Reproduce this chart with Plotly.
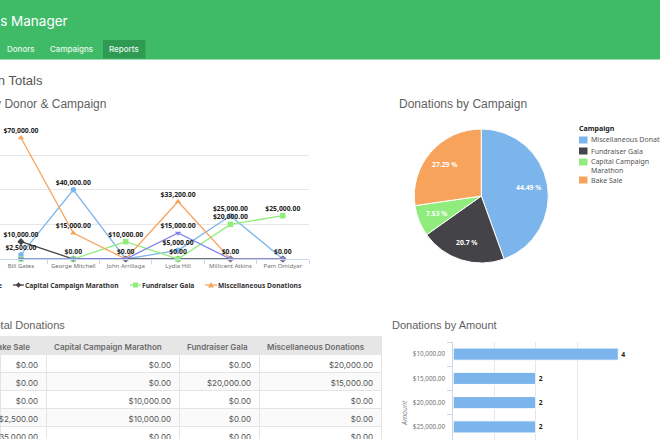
import math
import plotly.graph_objects as go

W, H = 660, 440

donors = ["Bill Gates", "George Mitchell", "John Arrillaga", "Lydia Hill", "Millicent Atkins", "Pam Omidyar"]
bake_sale = [2500, 40000, 0, 5000, 25000, 0]
capital_marathon = [10000, 0, 0, 0, 0, 0]
fundraiser_gala = [0, 0, 10000, 0, 20000, 25000]
misc_donations = [70000, 15000, 0, 33200, 0, 0]
other_campaign = [0, 0, 0, 15000, 0, 0]

bake_labelled = [True, True, False, True, True, True]
capital_labelled = [True, True, False, False, False, False]
gala_labelled = [False, False, True, True, True, True]
misc_labelled = [True, True, True, True, True, False]
other_labelled = [False, False, False, True, False, False]

pie_labels = ["Miscellaneous Donations", "Fundraiser Gala", "Capital Campaign<br>Marathon", "Bake Sale"]
pie_values = [44.49, 20.7, 7.53, 27.29]

amounts = ["$10,000.00", "$15,000.00", "$20,000.00", "$25,000.00"]
amount_counts = [4, 2, 2, 2]

table_headers = ["Bake Sale", "Capital Campaign Marathon", "Fundraiser Gala", "Miscellaneous Donations"]
table_bake = ["$0.00", "$0.00", "$0.00", "$2,500.00", "$35,000.00"]
table_capital = ["$0.00", "$0.00", "$10,000.00", "$10,000.00", "$0.00"]
table_gala = ["$0.00", "$20,000.00", "$0.00", "$0.00", "$0.00"]
table_misc = ["$20,000.00", "$15,000.00", "$0.00", "$0.00", "$0.00"]

BLUE, DARK, GREEN, ORANGE, PURPLE = "#7cb5ec", "#434348", "#90ed7d", "#f7a35c", "#8085e9"
CHART_FONT = "Noto Sans"
UI_FONT = "Inter"
TITLE_FONT = "Liberation Sans"
NB = "\u00a0"


def px(x):
    return x / W


def py(y):
    return 1 - y / H


def money(values, mask):
    return [f"${v:,.2f}" if m else "" for v, m in zip(values, mask)]


fig = go.Figure()

series = [
    ("Bake Sale", bake_sale, bake_labelled, BLUE, "circle"),
    ("Capital Campaign Marathon", capital_marathon, capital_labelled, DARK, "diamond"),
    ("Fundraiser Gala", fundraiser_gala, gala_labelled, GREEN, "square"),
    ("Miscellaneous Donations", misc_donations, misc_labelled, ORANGE, "triangle-up"),
    ("Other Campaign", other_campaign, other_labelled, PURPLE, "triangle-down"),
]
for name, vals, mask, color, sym in series:
    fig.add_trace(go.Scatter(
        x=donors, y=vals, name=name, mode="lines+markers",
        line=dict(color=color, width=1.3),
        marker=dict(color=color, size=5.5, symbol=sym),
        cliponaxis=False, showlegend=False, xaxis="x", yaxis="y",
    ))
for name, vals, mask, color, sym in series:
    fig.add_trace(go.Scatter(
        x=donors, y=vals, name=name, mode="markers+text",
        marker=dict(size=3.5, opacity=0),
        text=money(vals, mask), textposition="top center",
        textfont=dict(family=CHART_FONT, size=6.8, color="#222", weight="bold"),
        cliponaxis=False, showlegend=False, xaxis="x", yaxis="y",
    ))

PIE_CX, PIE_CY, PIE_R = 481.3, 196, 67
fig.add_trace(go.Pie(
    labels=pie_labels, values=pie_values, sort=False, direction="clockwise", rotation=0,
    marker=dict(colors=[BLUE, DARK, GREEN, ORANGE], line=dict(color="white", width=1)),
    textinfo="none",
    domain=dict(x=[px(PIE_CX - PIE_R), px(PIE_CX + PIE_R)], y=[py(PIE_CY + PIE_R), py(PIE_CY - PIE_R)]),
    showlegend=False,
))

fig.add_trace(go.Bar(
    x=amount_counts, y=amounts, orientation="h", marker=dict(color=BLUE, line=dict(color="white", width=1)),
    text=amount_counts, textposition="outside", cliponaxis=False, width=0.5,
    textfont=dict(family=CHART_FONT, size=6.8, color="#222", weight="bold"),
    xaxis="x2", yaxis="y2", showlegend=False,
))

fig.add_trace(go.Table(
    domain=dict(x=[0, px(381)], y=[0, py(336)]),
    columnwidth=[46, 133, 80, 122],
    header=dict(values=[table_headers[0].replace(" ", NB) + NB * 4] + [h.replace(" ", NB) for h in table_headers[1:]],
                height=18, align=["right", "left", "left", "left"],
                fill_color="#e6e6e6", line_color="#e6e6e6",
                font=dict(family=UI_FONT, size=8, color="#6b6b6b", weight=600)),
    cells=dict(values=[table_bake, table_capital, table_gala, table_misc], height=18, align="right",
               fill_color=[["#ffffff", "#fafafa", "#ffffff", "#fafafa", "#ffffff"]] * 4,
               line_color="#e4e4e4",
               font=dict(family=UI_FONT, size=8, color="#555555")),
))

fig.add_shape(type="rect", xref="paper", yref="paper", x0=0, x1=1, y0=py(59.5), y1=1,
              fillcolor="#3fbb68", line_width=0, layer="below")
fig.add_shape(type="rect", xref="paper", yref="paper", x0=px(103), x1=px(145.5), y0=py(58.5), y1=py(40),
              fillcolor="#2f9a52", line_width=0, layer="below")


def label(text, x, y, size, color, anchor="left", weight="normal", family=UI_FONT, angle=0):
    nudge = {"left": -2, "right": 2, "center": 0}[anchor]
    fig.add_annotation(text=text, xref="paper", yref="paper", x=px(x + nudge), y=py(y),
                       xanchor=anchor, yanchor="middle", showarrow=False, textangle=angle, align="left",
                       font=dict(family=family, size=size, color=color, weight=weight))


label("Donations Manager", 68, 21, 13.5, "white", "right")
label("Donors", 7, 48.5, 8, "#e8f7ed", weight=500)
label("Campaigns", 50, 48.5, 8, "#e8f7ed", weight=500)
label("Reports", 109, 48.5, 8, "#e8f7ed", weight=500)
label("Donation Totals", 42.5, 80, 13, "#555555", "right", family=TITLE_FONT)
label("Donations by Donor &amp; Campaign", 105.5, 103.5, 12, "#5f5f5f", "right", family=TITLE_FONT)
label("Donations by Campaign", 399, 103.5, 12, "#5f5f5f", family=TITLE_FONT)
label("Total Donations", 64.5, 324.5, 11, "#5f5f5f", "right", family=TITLE_FONT)
label("Donations by Amount", 392, 324.5, 11, "#5f5f5f", family=TITLE_FONT)
label("<i>Amount</i>", 404, 413, 7, "#888888", "center", family=CHART_FONT, angle=-90)

total = sum(pie_values)
cum = 0
for v in pie_values:
    mid = 2 * math.pi * (cum + v / 2) / total
    cum += v
    label(f"{v} %", PIE_CX + 0.72 * PIE_R * math.sin(mid), PIE_CY - 0.72 * PIE_R * math.cos(mid),
          6.8, "white", "center", weight="bold", family=CHART_FONT)


def rect_key(x0, x1, y0, y1, color):
    fig.add_shape(type="rect", xref="paper", yref="paper", x0=px(x0), x1=px(x1), y0=py(y1), y1=py(y0),
                  fillcolor=color, line_width=0)


def line_key(x0, x1, y, color):
    fig.add_shape(type="line", xref="paper", yref="paper", x0=px(x0), x1=px(x1), y0=py(y), y1=py(y),
                  line=dict(color=color, width=1.3))


def poly_key(points, color):
    path = "M" + " L".join(f"{px(a)} {py(b)}" for a, b in points) + " Z"
    fig.add_shape(type="path", xref="paper", yref="paper", path=path, fillcolor=color, line_width=0)


LEG_Y = 285
LEG_SIZE = 6.7
label("Bake Sale", 1.5, LEG_Y, LEG_SIZE, "#333333", "right", weight="bold", family=CHART_FONT)
line_key(13, 24, LEG_Y, DARK)
poly_key([(18.5, LEG_Y - 2.8), (21.3, LEG_Y), (18.5, LEG_Y + 2.8), (15.7, LEG_Y)], DARK)
label("Capital Campaign Marathon", 25, LEG_Y, LEG_SIZE, "#333333", weight="bold", family=CHART_FONT)
line_key(130, 141, LEG_Y, GREEN)
rect_key(133, 138, LEG_Y - 2.5, LEG_Y + 2.5, GREEN)
label("Fundraiser Gala", 142, LEG_Y, LEG_SIZE, "#333333", weight="bold", family=CHART_FONT)
line_key(205, 217, LEG_Y, ORANGE)
poly_key([(211, LEG_Y - 3), (214, LEG_Y + 2.5), (208, LEG_Y + 2.5)], ORANGE)
label("Miscellaneous Donations", 217.5, LEG_Y, LEG_SIZE, "#333333", weight="bold", family=CHART_FONT)

label("Campaign", 579, 128.5, 7, "#222222", weight="bold", family=CHART_FONT)
pie_key_y = [140, 151, 162, 180]
pie_text_y = [140, 151, 165.5, 180]
for text, color, ky, ty in zip(pie_labels, [BLUE, DARK, GREEN, ORANGE], pie_key_y, pie_text_y):
    rect_key(579, 587.5, ky - 3.5, ky + 3.5, color)
    label(text, 590.5, ty, 7, "#555555", family=CHART_FONT)

fig.update_layout(
    width=W, height=H, margin=dict(l=0, r=0, t=0, b=0), autosize=False,
    paper_bgcolor="white", plot_bgcolor="white", showlegend=False,
    font=dict(family=CHART_FONT, size=7, color="#666666"),
    xaxis=dict(domain=[0, px(309)], type="category", range=[-0.4, 5.5], categoryorder="array",
               categoryarray=donors, showgrid=False, tickson="boundaries", ticks="outside", ticklen=4,
               tickangle=0, tickcolor="#ccd6eb", linecolor="#ccd6eb", showline=True, zeroline=False,
               ticklabelstandoff=1,
               tickfont=dict(family=CHART_FONT, size=6, color="#707070")),
    yaxis=dict(domain=[py(259), py(120.5)], range=[0, 80000], tick0=0, dtick=20000, showticklabels=False,
               gridcolor="#e6e6e6", zeroline=False, ticks=""),
    xaxis2=dict(domain=[px(453.3), px(618.3)], range=[0, 4], dtick=1, showticklabels=False, anchor="y2",
                gridcolor="#e6e6e6", zeroline=False, ticks=""),
    yaxis2=dict(domain=[0, py(342)], type="category", categoryorder="array", categoryarray=amounts,
                range=[3.54, -0.5], anchor="x2", tickson="boundaries", ticks="outside", ticklen=5,
                tickcolor="#ccd6eb", linecolor="#ccd6eb", showline=True, showgrid=False, zeroline=False,
                ticklabelstandoff=6,
                tickfont=dict(family=CHART_FONT, size=6.3, color="#707070")),
)

fig.write_html("out.html", config={"displayModeBar": False},
               post_script="document.body.style.margin='0';document.documentElement.style.overflow='hidden';")
